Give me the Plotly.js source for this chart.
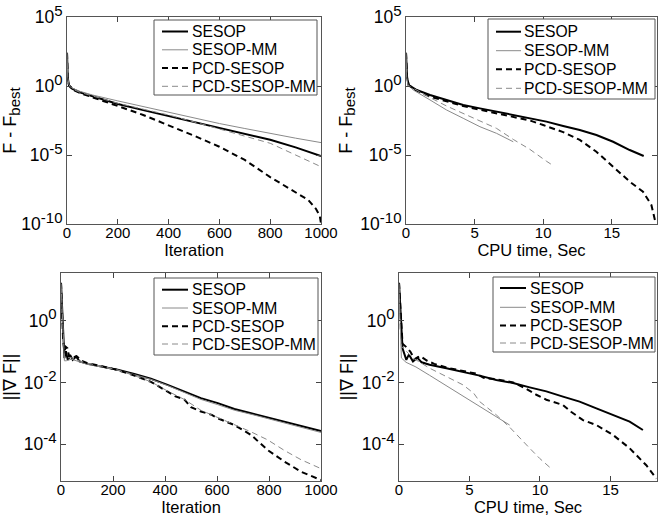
<!DOCTYPE html>
<html>
<head>
<meta charset="utf-8">
<script src="https://cdn.plot.ly/plotly-3.0.1.min.js"></script>
<style>html,body{margin:0;padding:0;background:#fff;}#chart{width:658px;height:516px;}</style>
</head>
<body>
<div id="chart"></div>
<script>
// ---- series names ----
var names = ["SESOP", "SESOP-MM", "PCD-SESOP", "PCD-SESOP-MM"];

// ---- Top-left: F - Fbest vs iteration (values as log10) ----
var tlSesopX = [0, 3, 8, 20, 50, 100, 200, 300, 400, 500, 600, 700, 800, 900, 1000];
var tlSesopLog = [2.4, 0.6, 0.05, -0.2, -0.45, -0.72, -1.3, -1.75, -2.17, -2.6, -3.02, -3.45, -3.9, -4.45, -5.07];
var tlMmX = [0, 3, 8, 20, 50, 100, 200, 300, 400, 500, 600, 700, 800, 900, 1000];
var tlMmLog = [2.4, 0.6, 0.1, -0.15, -0.38, -0.65, -1.08, -1.5, -1.9, -2.32, -2.72, -3.08, -3.45, -3.78, -4.1];
var tlPcdX = [0, 3, 8, 20, 50, 100, 200, 300, 400, 500, 600, 700, 800, 850, 900, 950, 980, 995, 1000];
var tlPcdLog = [2.4, 0.6, 0.05, -0.25, -0.5, -0.8, -1.45, -2.1, -2.83, -3.6, -4.4, -5.36, -6.6, -7.15, -7.66, -8.26, -8.9, -9.4, -9.95];
var tlPcdMmX = [0, 3, 8, 20, 50, 100, 200, 300, 400, 500, 600, 700, 800, 900, 1000];
var tlPcdMmLog = [2.4, 0.6, 0.08, -0.2, -0.45, -0.72, -1.25, -1.68, -2.1, -2.6, -3.1, -3.6, -4.15, -5.0, -5.85];

// ---- Top-right: F - Fbest vs CPU time ----
var trSesopX = [0, 0.08, 0.2, 0.78, 1.75, 2.96, 4.17, 5.39, 6.6, 7.82, 9.03, 10.24, 11.46, 12.67, 13.88, 15.1, 16.31, 17.33];
var trSesopLog = [2.4, 0.6, 0.07, -0.29, -0.65, -1.01, -1.38, -1.62, -1.86, -2.1, -2.34, -2.58, -2.9, -3.19, -3.55, -4.04, -4.64, -5.07];
var trMmX = [0, 0.05, 0.15, 0.53, 1.75, 2.96, 4.17, 5.39, 6.6, 7.82];
var trMmLog = [2.4, 0.6, 0.05, -0.29, -1.01, -1.74, -2.34, -2.95, -3.43, -4.04];
var trPcdX = [0, 0.08, 0.2, 0.78, 1.75, 2.96, 4.17, 5.39, 6.6, 8.06, 9.03, 10.0, 11.46, 12.67, 13.88, 15.1, 16.31, 17.28, 17.89, 18.2];
var trPcdLog = [2.4, 0.6, 0.05, -0.32, -0.77, -1.12, -1.45, -1.72, -1.98, -2.34, -2.5, -2.83, -3.34, -3.91, -4.76, -5.85, -6.93, -7.66, -8.62, -9.93];
var trPcdMmX = [0, 0.05, 0.15, 0.53, 1.75, 2.96, 4.17, 5.39, 6.6, 7.82, 9.03, 10.24, 10.73];
var trPcdMmLog = [2.4, 0.6, 0.05, -0.17, -0.84, -1.45, -1.98, -2.5, -3.07, -3.87, -4.59, -5.45, -5.77];

// ---- Bottom-left: ||grad F|| vs iteration ----
var blSesopX = [0, 4, 8, 13, 19, 26, 35, 45, 58, 71, 103, 154, 218, 282, 346, 410, 474, 538, 603, 667, 731, 795, 859, 923, 1000];
var blSesopLog = [1.22, 0.41, -0.67, -1.21, -0.99, -1.27, -1.11, -1.27, -1.16, -1.32, -1.4, -1.48, -1.59, -1.73, -1.88, -2.08, -2.29, -2.51, -2.67, -2.86, -3.0, -3.14, -3.27, -3.4, -3.57];
var blMmX = [0, 4, 8, 13, 20, 40, 70, 103, 154, 218, 282, 346, 410, 474, 538, 603, 667, 731, 795, 859, 923, 1000];
var blMmLog = [1.2, 0.4, -0.7, -1.3, -1.3, -1.25, -1.33, -1.42, -1.5, -1.6, -1.75, -1.9, -2.1, -2.33, -2.55, -2.72, -2.9, -3.03, -3.17, -3.3, -3.45, -3.62];
var blPcdX = [0, 4, 8, 13, 18, 25, 32, 45, 60, 80, 103, 154, 218, 282, 346, 410, 440, 474, 500, 538, 580, 603, 667, 731, 795, 859, 923, 1000];
var blPcdLog = [1.22, 0.4, -0.6, -1.0, -0.85, -0.9, -1.2, -1.2, -1.15, -1.3, -1.38, -1.47, -1.6, -1.78, -1.98, -2.3, -2.45, -2.55, -2.8, -2.94, -3.05, -3.16, -3.38, -3.7, -4.19, -4.56, -4.89, -5.16];
var blPcdMmX = [0, 4, 8, 13, 20, 40, 70, 103, 154, 218, 282, 346, 410, 474, 538, 603, 667, 731, 795, 859, 923, 1000];
var blPcdMmLog = [1.2, 0.4, -0.7, -1.25, -1.2, -1.2, -1.3, -1.38, -1.47, -1.6, -1.78, -1.98, -2.28, -2.55, -2.9, -3.14, -3.35, -3.6, -3.86, -4.2, -4.5, -4.79];

// ---- Bottom-right: ||grad F|| vs CPU time ----
var brSesopX = [0, 0.1, 0.25, 0.52, 0.7, 0.99, 1.3, 1.6, 2.17, 3.36, 4.54, 5.72, 6.9, 8.09, 9.27, 10.45, 11.63, 12.81, 14.0, 15.18, 16.36, 17.3];
var brSesopLog = [1.22, 0.3, -0.9, -1.27, -1.1, -1.32, -1.2, -1.35, -1.43, -1.54, -1.65, -1.78, -1.92, -2.02, -2.16, -2.29, -2.46, -2.62, -2.84, -3.05, -3.27, -3.54];
var brMmX = [0, 0.08, 0.17, 0.5, 1.2, 2.17, 3.36, 4.54, 5.72, 6.9, 7.85];
var brMmLog = [1.2, -0.2, -1.21, -1.35, -1.5, -1.77, -2.11, -2.44, -2.78, -3.12, -3.38];
var brPcdX = [0, 0.1, 0.25, 0.5, 0.8, 1.1, 1.5, 2.0, 2.5, 3.36, 4.54, 5.5, 6.0, 6.9, 8.09, 9.0, 9.74, 10.45, 11.63, 12.2, 13.05, 14.0, 15.18, 16.36, 17.54, 18.25];
var brPcdLog = [1.22, 0.3, -0.75, -0.85, -1.0, -1.25, -1.15, -1.3, -1.4, -1.52, -1.63, -1.72, -1.85, -1.9, -2.0, -2.2, -2.4, -2.56, -2.73, -2.95, -3.22, -3.38, -3.7, -4.13, -4.68, -5.11];
var brPcdMmX = [0, 0.08, 0.17, 0.99, 2.17, 3.36, 4.54, 5.3, 5.5, 5.72, 6.9, 7.85, 9.27, 9.98, 10.8];
var brPcdMmLog = [1.2, -0.3, -0.83, -1.21, -1.54, -1.81, -2.08, -2.35, -2.5, -2.62, -3.05, -3.45, -4.13, -4.46, -4.79];

// ---- tick labels ----
var topTickVals = [1e-10, 1e-5, 1, 1e5];
var topTickExp = ["-10", "-5", "0", "5"];
var botTickVals = [1e-4, 1e-2, 1];
var botTickExp = ["-4", "-2", "0"];
var iterTicks = [0, 200, 400, 600, 800, 1000];
var timeTicks = [0, 5, 10, 15];

function pow10(arr) { return arr.map(function (v) { return Math.pow(10, v); }); }
function supText(arr) { return arr.map(function (e) { return "10<sup><span style='font-size:15px'>" + e + "</span></sup>"; }); }

var styles = [
  {color: "#000000", width: 2, dash: "solid"},
  {color: "#8a8a8a", width: 1, dash: "solid"},
  {color: "#000000", width: 2, dash: "6px,4px"},
  {color: "#8a8a8a", width: 1, dash: "6px,4px"}
];

var panels = [
  {xa: "x", ya: "y", sets: [[tlSesopX, tlSesopLog], [tlMmX, tlMmLog], [tlPcdX, tlPcdLog], [tlPcdMmX, tlPcdMmLog]],
   leg: {box: [154, 317, 20, 95], line: [162, 188], tx: 191, rows: [31.5, 49.8, 68, 86.3]}},
  {xa: "x2", ya: "y2", sets: [[trSesopX, trSesopLog], [trMmX, trMmLog], [trPcdX, trPcdLog], [trPcdMmX, trPcdMmLog]],
   leg: {box: [488, 655, 19, 99], line: [496, 521], tx: 523, rows: [31.7, 50.7, 69.3, 88.3]}},
  {xa: "x3", ya: "y3", sets: [[blSesopX, blSesopLog], [blMmX, blMmLog], [blPcdX, blPcdLog], [blPcdMmX, blPcdMmLog]],
   leg: {box: [154, 318, 278, 355], line: [162, 188], tx: 191, rows: [289.7, 308, 326.3, 344]}},
  {xa: "x4", ya: "y4", sets: [[brSesopX, brSesopLog], [brMmX, brMmLog], [brPcdX, brPcdLog], [brPcdMmX, brPcdMmLog]],
   leg: {box: [493, 655, 277, 352], line: [500, 526], tx: 529, rows: [288, 307.3, 325.5, 343]}}
];

var W = 658, H = 516;
var fam = "Liberation Sans, Arial, Helvetica, sans-serif";
var font = {family: fam, size: 15, color: "#000"};
function px(x) { return x / W; }
function py(y) { return 1 - y / H; }

var traces = [];
var shapes = [];
var annotations = [];
panels.forEach(function (p) {
  p.sets.forEach(function (s, i) {
    traces.push({
      x: s[0], y: pow10(s[1]), type: "scatter", mode: "lines", name: names[i],
      xaxis: p.xa, yaxis: p.ya, line: styles[i], hoverinfo: "skip", showlegend: false
    });
  });
  var L = p.leg;
  shapes.push({type: "rect", xref: "paper", yref: "paper", x0: px(L.box[0]), x1: px(L.box[1]),
    y0: py(L.box[3]), y1: py(L.box[2]), line: {color: "#555", width: 1}, fillcolor: "#fff", layer: "above"});
  names.forEach(function (n, i) {
    shapes.push({type: "line", xref: "paper", yref: "paper", x0: px(L.line[0]), x1: px(L.line[1]),
      y0: py(L.rows[i]), y1: py(L.rows[i]), line: styles[i], layer: "above"});
    annotations.push({xref: "paper", yref: "paper", x: px(L.tx), y: py(L.rows[i]), xanchor: "left", yanchor: "middle",
      text: n, showarrow: false, font: {family: fam, size: 15.7, color: "#000"}, borderpad: 0});
  });
});

function xAx(l, r, range, ticks, title, anchor) {
  return {domain: [l / W, r / W], range: range, tickvals: ticks, ticks: "inside", ticklen: 5,
    mirror: "ticks", showline: true, linecolor: "#555", linewidth: 1, showgrid: false, zeroline: false,
    tickfont: font, anchor: anchor, ticklabelstandoff: -5,
    title: {text: title, font: {family: fam, size: 16.5, color: "#000"}, standoff: 1}};
}
function yAx(t, b, range, vals, exps, title, anchor) {
  return {domain: [1 - b / H, 1 - t / H], type: "log", range: range, tickvals: vals, ticktext: supText(exps),
    ticks: "inside", ticklen: 5, mirror: "ticks", showline: true, linecolor: "#555", linewidth: 1,
    showgrid: false, zeroline: false, tickfont: {family: fam, size: 17.5, color: "#000"}, anchor: anchor,
    title: {text: title, font: {family: fam, size: 18, color: "#000"}, standoff: 3}};
}

var fTitle = "F - F<sub><span style='font-size:15px'>best</span></sub>";
var gTitle = "||∇ F||";

var layout = {
  width: W, height: H, margin: {l: 0, r: 0, t: 0, b: 0},
  paper_bgcolor: "#fff", plot_bgcolor: "#fff", font: font, showlegend: false,
  xaxis: xAx(67, 321, [0, 1000], iterTicks, "Iteration", "y"),
  yaxis: yAx(17, 224, [-10, 5], topTickVals, topTickExp, fTitle, "x"),
  xaxis2: xAx(406, 657, [0, 18.3], timeTicks, "CPU time, Sec", "y2"),
  yaxis2: yAx(17, 224, [-10, 5], topTickVals, topTickExp, fTitle, "x2"),
  xaxis3: xAx(61, 321, [0, 1000], iterTicks, "Iteration", "y3"),
  yaxis3: yAx(273, 481, [-5.19, 1.54], botTickVals, botTickExp, gTitle, "x3"),
  xaxis4: xAx(399, 657, [0, 18.3], timeTicks, "CPU time, Sec", "y4"),
  yaxis4: yAx(273, 481, [-5.19, 1.54], botTickVals, botTickExp, gTitle, "x4"),
  shapes: shapes, annotations: annotations
};

Plotly.newPlot("chart", traces, layout, {staticPlot: true, displayModeBar: false});
</script>
</body>
</html>
